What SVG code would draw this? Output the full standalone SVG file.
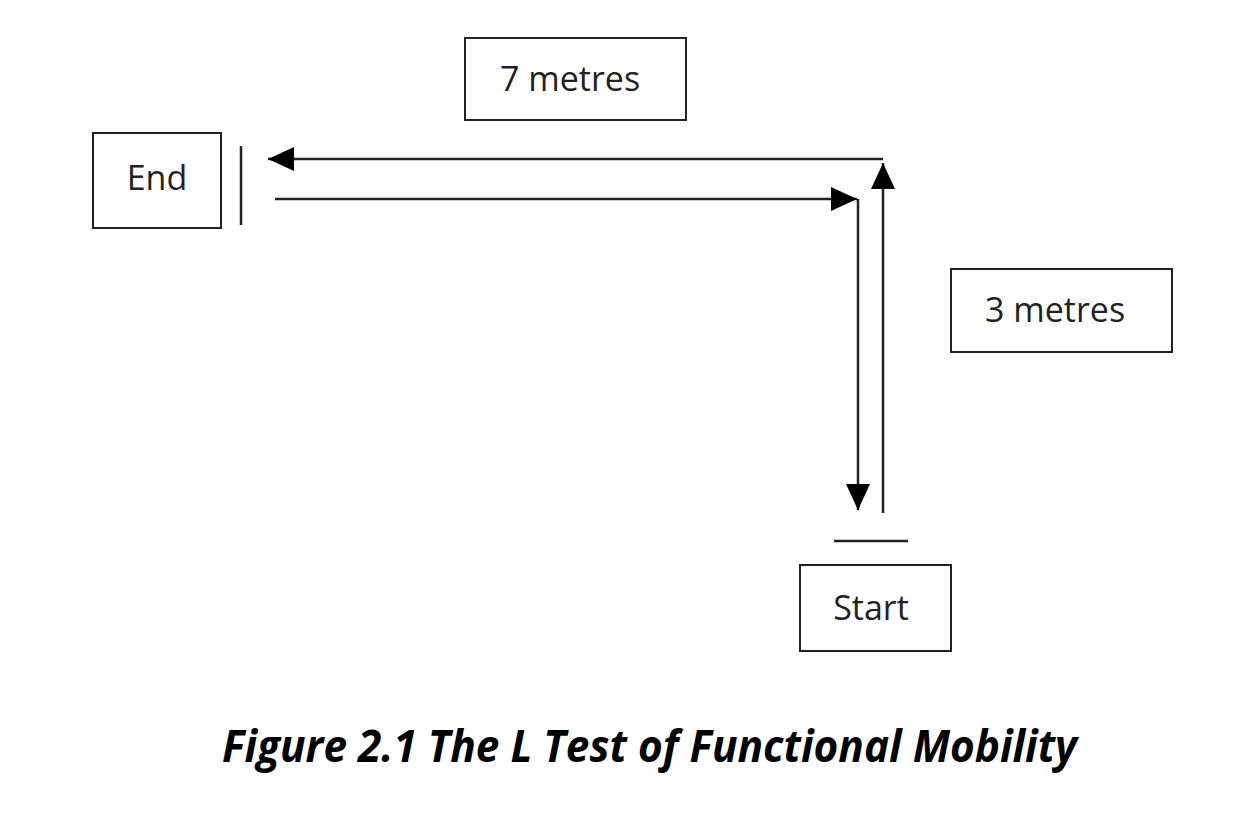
<svg xmlns="http://www.w3.org/2000/svg" width="1252" height="814" viewBox="0 0 1252 814">
<style>
.box{fill:#fff;stroke:#222;stroke-width:2}
.lbl{font-family:"Open Sans","Noto Sans",sans-serif;font-size:34px;fill:#222}
.ln{fill:none;stroke:#222;stroke-width:2.5}
.cap{font-family:"Open Sans","Noto Sans",sans-serif;font-size:44px;font-weight:bold;font-style:italic;fill:#000}
</style>
<defs>
<marker id="ah" viewBox="0 0 26 24" refX="26" refY="12" markerWidth="26" markerHeight="24" markerUnits="userSpaceOnUse" orient="auto">
<path d="M0,0 L26,12 L0,24 Z" fill="#000"/>
</marker>
</defs>
<rect width="1252" height="814" fill="#fff"/>
<g id="connectors">
<line class="ln" x1="883" y1="159" x2="268" y2="159" marker-end="url(#ah)"/>
<polyline class="ln" points="275,199 857,199" marker-end="url(#ah)"/>
<polyline class="ln" points="858,199 858,510" marker-end="url(#ah)"/>
<line class="ln" x1="883" y1="513" x2="883" y2="163" marker-end="url(#ah)"/>
<line class="ln" x1="241" y1="146" x2="241" y2="225"/>
<line class="ln" x1="834" y1="541" x2="908" y2="541"/>
</g>
<g id="end">
<rect class="box" x="93" y="133" width="128" height="95"/>
<text class="lbl" x="157" y="190" text-anchor="middle">End</text>
</g>
<g id="start">
<rect class="box" x="800" y="565" width="151" height="86"/>
<text class="lbl" x="871" y="620" text-anchor="middle">Start</text>
</g>
<g id="seven">
<rect class="box" x="465" y="38" width="221" height="82"/>
<text class="lbl" x="500" y="91">7 metres</text>
</g>
<g id="three">
<rect class="box" x="951" y="269" width="221" height="83"/>
<text class="lbl" x="985" y="322">3 metres</text>
</g>
<text class="cap" x="222" y="762" textLength="855" lengthAdjust="spacingAndGlyphs">Figure 2.1 The L Test of Functional Mobility</text>
</svg>
